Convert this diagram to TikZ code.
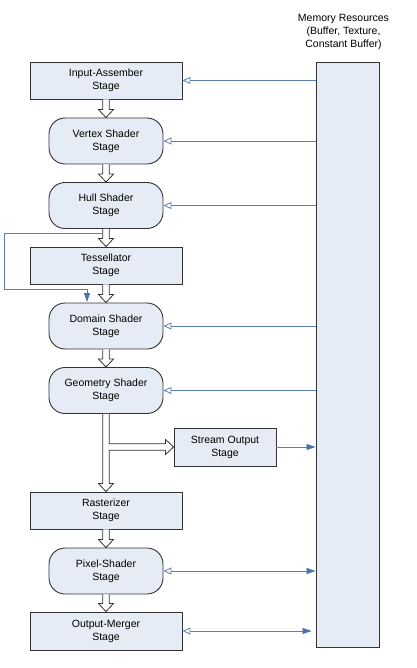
\documentclass[tikz,border=0pt]{standalone}
\usepackage{fontspec}
\setmainfont{Liberation Sans}
\usetikzlibrary{arrows.meta,calc}
\definecolor{stagefill}{HTML}{E6ECF6}
\definecolor{wire}{HTML}{5B7FAE}
\definecolor{tipblue}{HTML}{4A72AC}
\definecolor{edge}{HTML}{333333}
\tikzset{
  stage/.style={draw=edge,fill=stagefill,line width=0.9pt,minimum width=152pt,
    minimum height=37pt,inner sep=0pt,align=center,font=\fontsize{10.5}{13}\selectfont},
  shader/.style={stage,minimum width=114pt,minimum height=46pt,rounded corners=16pt},
  pipe/.style={draw=edge,line width=0.8pt,fill=white,line join=miter},
  fetch/.style={draw=wire,line width=0.8pt,-{Triangle[open,length=8pt,width=7pt]}},
  store/.style={draw=wire,line width=0.8pt,-{Triangle[length=9pt,width=6pt,color=tipblue]}},
  both/.style={draw=wire,line width=0.8pt,
    {Triangle[open,length=8pt,width=7pt]}-{Triangle[length=9pt,width=6pt,color=tipblue]}},
}
% hollow block arrow from #1 to #2
\newcommand{\pipearrow}[2]{%
  \coordinate (hb) at ($(#2)!8pt!(#1)$);
  \draw[pipe] ($(#1)!3.3pt!90:(#2)$) -- ($(hb)!3.3pt!90:(#2)$) -- ($(hb)!7.5pt!90:(#2)$)
    -- (#2) -- ($(hb)!7.5pt!-90:(#2)$) -- ($(hb)!3.3pt!-90:(#2)$) -- ($(#1)!3.3pt!-90:(#2)$);
}
\begin{document}
\begin{tikzpicture}[x=1pt,y=-1pt]
		\useasboundingbox (0,0) rectangle (416,668);
		% pipeline stages
		\node[stage] (ia) at (106,80.5) {Input-Assember\\Stage};
		\node[shader] (vs) at (106,141) {Vertex Shader\\Stage};
		\node[shader] (hs) at (106,205.5) {Hull Shader\\Stage};
		\node[stage] (ts) at (106,265.5) {Tessellator\\Stage};
		\node[shader] (ds) at (106,326) {Domain Shader\\Stage};
		\node[shader] (gs) at (106,390.5) {Geometry Shader\\Stage};
		\node[stage,minimum width=102pt,minimum height=38pt] (so) at (225,447) {Stream Output\\Stage};
		\node[stage] (ra) at (106,510.5) {Rasterizer\\Stage};
		\node[shader] (ps) at (106,571) {Pixel-Shader\\Stage};
		\node[stage,minimum height=38pt] (om) at (106,631) {Output-Merger\\Stage};
		% memory
		\node[stage,minimum width=63pt,minimum height=585pt] (mem) at (347.5,354.5) {};
		\node[align=center,font=\fontsize{10.5}{13}\selectfont] (memlabel) at (343.5,32) {Memory Resources\\(Buffer, Texture,\\Constant Buffer)};
		% data flow
		\pipearrow{ia.south}{vs.north}
		\pipearrow{vs.south}{hs.north}
		\pipearrow{hs.south}{ts.north}
		\pipearrow{ts.south}{ds.north}
		\pipearrow{ds.south}{gs.north}
		\pipearrow{gs.south}{ra.north}
		\pipearrow{ra.south}{ps.north}
		\pipearrow{ps.south}{om.north}
		\coordinate (split) at (108.6,447);
		\pipearrow{split}{so.west}
		% bypass of the tessellator
		\coordinate (fbin) at (102,233);
		\coordinate (fbout) at (87,302);
		\draw[store] (fbin) -| ++(-98,56) -| (fbout);
		% resources
		\draw[fetch] (mem.west |- ia) -- (ia.east);
		\draw[fetch] (mem.west |- vs) -- (vs.east);
		\draw[fetch] (mem.west |- hs) -- (hs.east);
		\draw[fetch] (mem.west |- ds) -- (ds.east);
		\draw[fetch] (mem.west |- gs) -- (gs.east);
		\draw[store] (so.east) -- (so.east -| mem.west);
		\draw[both] (ps.east) -- (ps.east -| mem.west);
		\draw[both,shorten >=4pt] (om.east) -- (om.east -| mem.west);
	\end{tikzpicture}
\end{document}
